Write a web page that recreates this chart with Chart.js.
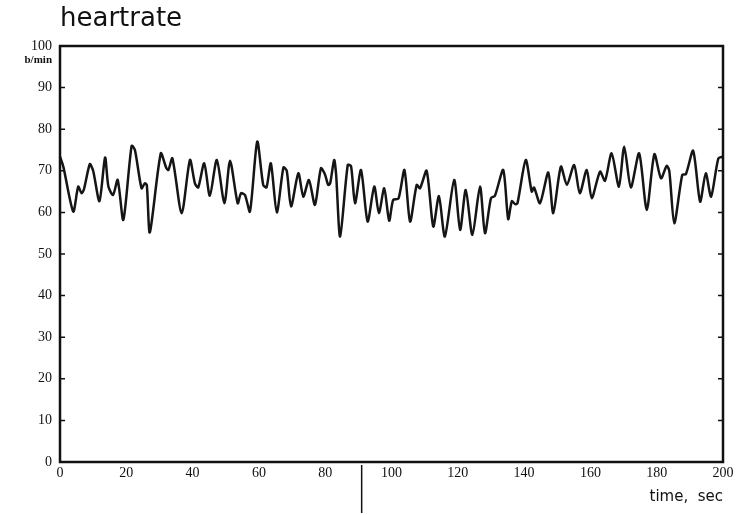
<!DOCTYPE html>
<html>
<head>
<meta charset="utf-8">
<script src="https://cdn.jsdelivr.net/npm/chart.js@4.4.1/dist/chart.umd.min.js"></script>
<style>
  html, body { margin: 0; padding: 0; background: #fff; }
  #wrap { width: 741px; height: 515px; position: relative; }
</style>
</head>
<body>
<div id="wrap"><canvas id="c"></canvas></div>
<script>
// ---- data ----
const times = [0, 1, 4.0, 5.5, 6.5, 7.2, 9.0, 10.0, 11.9, 13.6, 14.6, 16.0, 17.4, 19.1, 21.6, 22.6, 24.6, 25.6, 26.2, 27.1,
  30.4, 32.0, 32.7, 33.9, 36.7, 39.2, 40.7, 41.7, 43.5, 45.2, 47.3, 49.6, 51.3, 53.6, 54.6, 55.8, 57.3, 59.5,
  61.3, 62.3, 63.6, 65.4, 67.4, 68.4, 69.7, 71.9, 73.4, 75.1, 76.9, 78.7, 79.9, 80.9, 81.5, 82.7, 83.3, 84.5,
  86.8, 87.8, 89.0, 90.8, 92.8, 94.8, 96.2, 97.8, 99.3, 100.5, 102.1, 103.9, 105.6, 107.6, 108.6, 110.6, 112.6,
  114.3, 116.1, 118.9, 120.7, 122.4, 124.4, 126.7, 128.2, 130.0, 131.2, 133.7, 135.2, 136.3, 137.3, 138.0,
  140.5, 142.3, 143.0, 144.8, 147.3, 148.8, 151.1, 152.9, 155.1, 156.8, 158.9, 160.4, 162.9, 164.4, 166.4,
  168.6, 170.2, 172.2, 174.7, 177.0, 179.3, 181.3, 183.0, 183.8, 185.3, 187.7, 188.8, 191.0, 193.1, 194.8,
  196.4, 198.6, 200];
const heartrate = [73.4, 71, 60.2, 66.2, 64.6, 65.5, 71.6, 70.0, 62.7, 73.2, 66.2, 64.2, 67.8, 58.2, 76.0, 75.0, 65.8, 67.0, 66.5, 55.2,
  74.2, 70.8, 70.2, 73.0, 59.8, 72.6, 67.0, 66.0, 71.8, 64.0, 72.6, 62.2, 72.4, 62.2, 64.6, 64.2, 60.2, 77.0,
  66.6, 66.0, 71.8, 60.0, 70.8, 70.0, 61.4, 69.4, 63.8, 67.8, 61.8, 70.6, 69.2, 66.6, 67.0, 72.6, 69.0, 54.2,
  71.4, 71.1, 62.2, 70.2, 57.8, 66.2, 59.8, 65.8, 58.0, 63.0, 63.3, 70.2, 57.8, 66.6, 65.8, 70.0, 56.6,
  63.9, 54.2, 67.8, 55.8, 65.4, 54.6, 66.2, 55.0, 63.4, 64.0, 70.2, 58.4, 62.7, 62.0, 62.2,
  72.6, 65.0, 66.0, 62.2, 69.6, 59.8, 71.0, 66.6, 71.4, 64.6, 70.2, 63.4, 69.8, 67.6, 74.2,
  66.2, 75.8, 66.0, 74.2, 60.6, 74.0, 68.2, 71.2, 70.0, 57.4, 69.0, 69.2, 74.8, 62.6, 69.4,
  63.8, 73.0, 73.4];
const xTicks = [0, 20, 40, 60, 80, 100, 120, 140, 160, 180, 200];
const yTicks = [0, 10, 20, 30, 40, 50, 60, 70, 80, 90, 100];
const titleText = 'heartrate';
const yUnitText = 'b/min';
const xTitleText = 'time,  sec';
const markerTime = 91;

// ---- chart ----
const points = times.map((t, i) => ({ x: t, y: heartrate[i] }));

const framePlugin = {
  id: 'frame',
  afterDraw(chart) {
    const { ctx, chartArea: a, scales } = chart;
    const xs = scales.x, ys = scales.y;
    ctx.save();
    ctx.strokeStyle = '#111';
    ctx.lineWidth = 2.5;
    ctx.strokeRect(a.left, a.top, a.right - a.left, a.bottom - a.top);
    // inward ticks on left and right axes
    ctx.lineWidth = 1.5;
    yTicks.forEach(v => {
      const py = ys.getPixelForValue(v);
      ctx.beginPath();
      ctx.moveTo(a.left, py); ctx.lineTo(a.left + 5, py);
      ctx.moveTo(a.right, py); ctx.lineTo(a.right - 5, py);
      ctx.stroke();
    });
    // marker below the axis
    const mx = xs.getPixelForValue(markerTime);
    ctx.lineWidth = 1.5;
    ctx.beginPath();
    ctx.moveTo(mx, a.bottom + 3);
    ctx.lineTo(mx, a.bottom + 51);
    ctx.stroke();
    // unit label under 100
    ctx.fillStyle = '#111';
    ctx.font = 'bold 11px "Liberation Serif"';
    ctx.textAlign = 'right';
    ctx.textBaseline = 'middle';
    ctx.fillText(yUnitText, a.left - 8, ys.getPixelForValue(96.5));
    ctx.restore();
  }
};

new Chart(document.getElementById('c'), {
  type: 'line',
  data: {
    datasets: [{
      data: points,
      borderColor: '#151515',
      borderWidth: 2.5,
      pointRadius: 0,
      tension: 0.25,
      fill: false
    }]
  },
  options: {
    responsive: true,
    maintainAspectRatio: false,
    animation: false,
    layout: { padding: { left: 0, right: 18, top: 0, bottom: 0 } },
    plugins: {
      legend: { display: false },
      tooltip: { enabled: false },
      title: {
        display: true,
        text: titleText,
        align: 'start',
        fullSize: false,
        color: '#111',
        font: { family: '"DejaVu Sans"', size: 26, weight: 'normal', lineHeight: 1.2 },
        padding: { top: 4, bottom: 10.8 }
      }
    },
    scales: {
      x: {
        type: 'linear',
        min: 0, max: 200,
        afterBuildTicks(s) { s.ticks = xTicks.map(v => ({ value: v })); },
        afterFit(s) { s.height = 53; },
        grid: { display: false, drawTicks: false },
        border: { display: false },
        ticks: {
          color: '#111',
          padding: 3,
          maxRotation: 0,
          font: { family: '"Liberation Serif"', size: 14 }
        },
        title: {
          display: true,
          text: xTitleText,
          align: 'end',
          color: '#111',
          font: { family: '"DejaVu Sans"', size: 15 },
          padding: { top: 0, bottom: 9 }
        }
      },
      y: {
        min: 0, max: 100,
        afterBuildTicks(s) { s.ticks = yTicks.map(v => ({ value: v })); },
        afterFit(s) { s.width = 60; },
        grid: { display: false, drawTicks: false },
        border: { display: false },
        ticks: {
          color: '#111',
          padding: 8,
          font: { family: '"Liberation Serif"', size: 14 }
        }
      }
    }
  },
  plugins: [framePlugin]
});
</script>
</body>
</html>
